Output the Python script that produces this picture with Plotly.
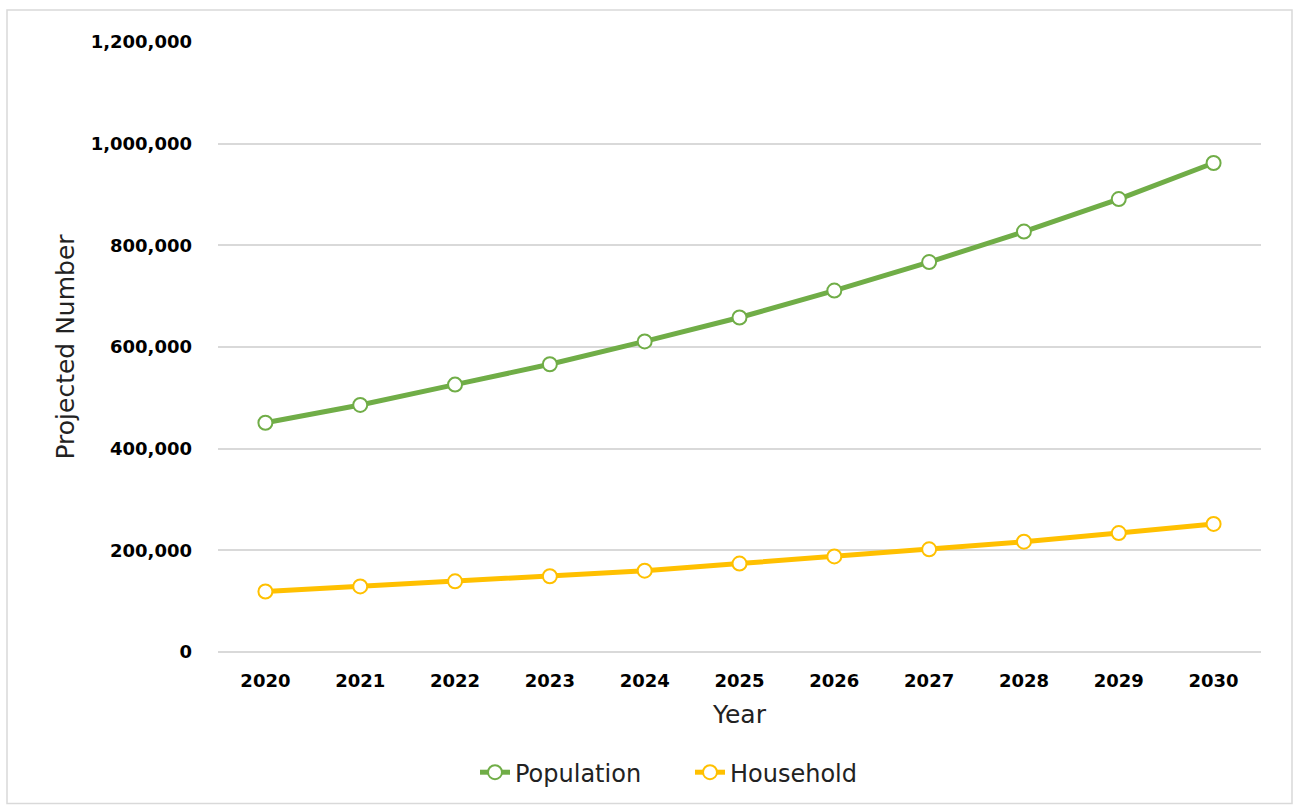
import plotly.graph_objects as go

years = ["2020", "2021", "2022", "2023", "2024", "2025", "2026", "2027", "2028", "2029", "2030"]
population = [451000, 486000, 526000, 566000, 611000, 658000, 711000, 767000, 827000, 891000, 962000]
household = [119000, 129000, 139000, 149000, 160000, 174000, 188000, 202000, 217000, 234000, 252000]
y_ticks = [0, 200000, 400000, 600000, 800000, 1000000, 1200000]

FONT = "DejaVu Sans"
GREEN = "#70AD47"
YELLOW = "#FFC000"

PL, PW = 218, 1043  # plot left / width in px
PB, PH = 654, 612   # plot bottom / height in px


def px_x(p):
    return (p - PL) / PW


def px_y(p):
    return (PB - p) / PH


fig = go.Figure()
fig.add_trace(go.Scatter(
    x=years, y=population, name="Population", mode="lines+markers",
    line=dict(color=GREEN, width=5),
    marker=dict(size=14, color="white", line=dict(color=GREEN, width=2)),
    legend="legend",
))
fig.add_trace(go.Scatter(
    x=years, y=household, name="Household", mode="lines+markers",
    line=dict(color=YELLOW, width=5),
    marker=dict(size=14, color="white", line=dict(color=YELLOW, width=2)),
    legend="legend2",
))

legend_font = dict(size=24, family=FONT, color="#222")

fig.update_layout(
    width=1293, height=807,
    margin=dict(l=PL, r=1293 - PL - PW, t=PB - PH, b=807 - PB),
    paper_bgcolor="white", plot_bgcolor="white",
    font=dict(family=FONT, color="#000000"),
    showlegend=True,
    legend=dict(orientation="h", x=px_x(475), xanchor="left", y=px_y(775), yanchor="middle",
                font=legend_font, bgcolor="rgba(0,0,0,0)"),
    legend2=dict(orientation="h", x=px_x(690), xanchor="left", y=px_y(775), yanchor="middle",
                 font=legend_font, bgcolor="rgba(0,0,0,0)"),
    xaxis=dict(
        type="category", range=[-0.5, 10.5],
        showgrid=False, showline=False, zeroline=False,
        tickfont=dict(size=18, family=FONT, color="black", weight="bold"),
        ticklabelstandoff=16,
        title=dict(text="Year", font=dict(size=25, family=FONT, color="#222"), standoff=15),
    ),
    yaxis=dict(
        range=[0, 1200000], tickvals=y_ticks, tickformat=",d",
        showgrid=True, gridcolor="#D9D9D9", gridwidth=1.5,
        zeroline=True, zerolinecolor="#D9D9D9", zerolinewidth=1.5, showline=False,
        tickfont=dict(size=18, family=FONT, color="black", weight="bold"),
        ticklabelstandoff=25,
        title=dict(text="Projected Number", font=dict(size=25, family=FONT, color="#222"), standoff=8),
    ),
    shapes=[dict(type="rect", xref="paper", yref="paper",
                 x0=px_x(7), x1=px_x(1292), y0=px_y(806), y1=px_y(10),
                 line=dict(color="#D9D9D9", width=1.5), fillcolor="rgba(0,0,0,0)", layer="below")],
)

fig.write_html(
    "out.html",
    config={"displayModeBar": False},
    post_script="document.body.style.margin='0';document.body.style.overflow='hidden';",
)
